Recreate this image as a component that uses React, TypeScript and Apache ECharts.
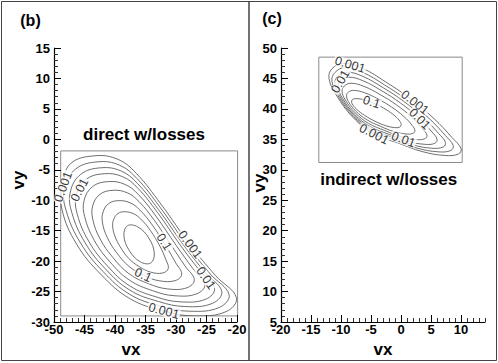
import React, { useEffect, useRef } from 'react';
import * as echarts from 'echarts';

const FONT = '"Liberation Sans", Arial, Helvetica, sans-serif';

// ---- axis ranges (tick step 5) ----
const STEP = 5;
const bX = [-50, -20];
const bY = [-30, 15];
const cX = [-20, 14];
const cXLab = [-20, 10];
const cY = [5, 50];

// ---- frames of the contour data regions [xmin, xmax, ymin, ymax] ----
const bBox = [-48.9, -19.9, -29.0, -1.9];
const cBox = [-13.7, 10.2, 31.2, 48.5];

// ---- panel (b) "direct w/losses" contours, outer (0.001) to inner ----
const bC1 = [[-43.3,-2.7],[-39.5,-3.3],[-36.5,-5.6],[-32.5,-10.6],[-27.7,-17.3],[-23.5,-22.4],[-20.1,-26.0],[-21.8,-28.3],[-27,-29.0],[-32,-28.2],[-37.5,-26.2],[-42.3,-22.2],[-46.3,-17.2],[-48.7,-11.5],[-48.6,-7.5],[-47.3,-4.0]];
const bC2 = [[-42.78,-3.69],[-39.24,-4.25],[-36.42,-6.41],[-32.68,-11.07],[-28.23,-17.33],[-24.38,-22.12],[-21.3,-25.49],[-22.92,-27.62],[-27.77,-28.23],[-32.43,-27.42],[-37.53,-25.49],[-41.96,-21.71],[-45.63,-17.06],[-47.99,-11.78],[-48.31,-8.08],[-46.46,-4.88]];
const bC3 = [[-42.27,-4.67],[-38.98,-5.21],[-36.35,-7.21],[-32.87,-11.54],[-28.76,-17.36],[-25.25,-21.84],[-22.5,-24.97],[-24.03,-26.94],[-28.54,-27.46],[-32.85,-26.64],[-37.56,-24.77],[-41.62,-21.23],[-44.95,-16.91],[-47.07,-12.06],[-47.33,-8.67],[-45.62,-5.75]];
const bC4 = [[-41.76,-5.65],[-38.72,-6.15],[-36.27,-8.01],[-33.05,-12.0],[-29.28,-17.39],[-26.12,-21.56],[-23.69,-24.46],[-25.13,-26.26],[-29.3,-26.69],[-33.28,-25.87],[-37.58,-24.07],[-41.29,-20.74],[-44.29,-16.77],[-46.17,-12.34],[-46.35,-9.24],[-44.79,-6.62]];
const bC5 = [[-41.08,-6.94],[-38.37,-7.4],[-36.17,-9.06],[-33.29,-12.61],[-29.97,-17.42],[-27.26,-21.19],[-25.26,-23.79],[-26.6,-25.37],[-30.31,-25.68],[-33.84,-24.85],[-37.62,-23.13],[-40.84,-20.11],[-43.4,-16.59],[-44.97,-12.7],[-45.06,-10.01],[-43.69,-7.77]];
const bC6 = [[-40.34,-8.37],[-37.99,-8.78],[-36.06,-10.23],[-33.56,-13.29],[-30.74,-17.47],[-28.53,-20.79],[-27.0,-23.04],[-28.21,-24.38],[-31.42,-24.56],[-34.46,-23.72],[-37.66,-22.1],[-40.35,-19.4],[-42.43,-16.38],[-43.65,-13.11],[-43.63,-10.85],[-42.48,-9.04]];
const bC7 = [[-39.45,-10.07],[-37.54,-10.42],[-35.92,-11.61],[-33.87,-14.1],[-31.65,-17.52],[-30.04,-20.3],[-29.06,-22.15],[-30.13,-23.2],[-32.75,-23.23],[-35.19,-22.38],[-37.71,-20.86],[-39.77,-18.56],[-41.26,-16.13],[-42.07,-13.59],[-41.93,-11.86],[-41.03,-10.55]];
const bC8 = [[-38.5,-11.89],[-37.05,-12.18],[-35.78,-13.09],[-34.21,-14.96],[-32.63,-17.57],[-31.65,-19.78],[-31.27,-21.21],[-32.18,-21.95],[-34.16,-21.81],[-35.98,-20.94],[-37.76,-19.55],[-39.14,-17.66],[-40.02,-15.87],[-40.39,-14.11],[-40.12,-12.93],[-39.48,-12.16]];
const bC9 = [[-34.14,-20.3],[-33.56,-18.7],[-34.44,-16.24],[-36.26,-14.38],[-37.96,-14.2],[-38.54,-15.8],[-37.66,-18.26],[-35.84,-20.12]];
const bContours = [bC1, bC2, bC3, bC4, bC5, bC6, bC7, bC8, bC9];

// contour labels: [text, vx, vy, rotation]
const bLabels: [string, number, number, number][] = [
  ['0.001', -48.5, -7.8, 70],
  ['0.01', -45.8, -8.3, 62],
  ['0.001', -27.7, -17.3, -53],
  ['0.1', -31.95, -16.85, -58],
  ['0.01', -25.1, -22.8, -55],
  ['0.1', -35.4, -22.3, -25],
  ['0.001', -32.0, -28.2, -15],
];

// ---- panel (c) "indirect w/losses" contours ----
const cC1 = [[-9.6,47.5],[-6.5,46.7],[-2.5,44.4],[1.5,41.7],[5.5,38.4],[8.5,35.3],[10.0,33.5],[9.6,32.6],[7.3,32.35],[3.5,33.0],[-0.5,34.4],[-4.5,35.85],[-8.0,38.6],[-10.8,42.3],[-12.0,45.0],[-11.5,46.6]];
const cC2 = [[-9.31,46.79],[-6.43,46.02],[-2.73,43.93],[0.98,41.46],[4.65,38.46],[7.38,35.64],[8.7,34.0],[8.31,33.17],[6.21,32.95],[2.71,33.55],[-1.0,34.86],[-4.7,36.25],[-7.93,38.78],[-10.46,42.11],[-11.51,44.53],[-11.03,45.95]];
const cC3 = [[-9.02,46.03],[-6.36,45.34],[-2.95,43.46],[0.47,41.23],[3.81,38.51],[6.25,35.98],[7.41,34.49],[7.03,33.74],[5.12,33.54],[1.92,34.11],[-1.5,35.33],[-4.91,36.65],[-7.85,38.95],[-10.11,41.93],[-11.01,44.06],[-10.57,45.31]];
const cC4 = [[-8.7,45.21],[-6.29,44.6],[-3.19,42.96],[-0.09,40.97],[2.9,38.58],[5.04,36.34],[6.01,35.03],[5.64,34.35],[3.95,34.18],[1.08,34.7],[-2.03,35.83],[-5.12,37.08],[-7.77,39.14],[-9.74,41.73],[-10.48,43.56],[-10.06,44.61]];
const cC5 = [[-8.32,44.21],[-6.2,43.71],[-3.49,42.35],[-0.76,40.66],[1.79,38.65],[3.58,36.78],[4.32,35.68],[3.96,35.1],[2.52,34.96],[0.05,35.42],[-2.68,36.44],[-5.39,37.61],[-7.67,39.38],[-9.3,41.49],[-9.83,42.94],[-9.45,43.76]];
const cC6 = [[-7.88,43.04],[-6.09,42.66],[-3.83,41.63],[-1.56,40.3],[0.49,38.74],[1.85,37.3],[2.32,36.44],[1.99,35.97],[0.85,35.88],[-1.17,36.27],[-3.45,37.15],[-5.7,38.22],[-7.55,39.65],[-8.77,41.2],[-9.07,42.22],[-8.74,42.77]];
const cC7 = [[-7.36,41.69],[-5.97,41.45],[-4.23,40.8],[-2.47,39.88],[-1.01,38.84],[-0.14,37.9],[0.03,37.32],[-0.29,36.98],[-1.08,36.93],[-2.56,37.25],[-4.33,37.97],[-6.06,38.93],[-7.42,39.96],[-8.16,40.87],[-8.2,41.39],[-7.91,41.62]];
const cContours = [cC1, cC2, cC3, cC4, cC5, cC6, cC7];

const cLabels: [string, number, number, number][] = [
  ['0.001', -8.5, 47.25, -17],
  ['0.01', -10.1, 44.5, 60],
  ['0.1', -4.9, 41.1, -18],
  ['0.001', 2.3, 41.05, -38],
  ['0.01', 3.1, 38.35, -45],
  ['0.001', -4.5, 35.85, -27],
  ['0.01', 0.4, 34.95, -20],
];

// ---- pixel layout of the two plots ----
const bPlot = { left: 54, top: 48, width: 183, height: 274 };
const cPlot = { left: 281, top: 48, width: 204, height: 274 };

function boxGrid(plot: any, xr: number[], yr: number[], box: number[]) {
  const sx = plot.width / (xr[1] - xr[0]);
  const sy = plot.height / (yr[1] - yr[0]);
  return {
    left: plot.left + (box[0] - xr[0]) * sx,
    top: plot.top + (yr[1] - box[3]) * sy,
    width: (box[1] - box[0]) * sx,
    height: (box[3] - box[2]) * sy,
    show: true,
    borderColor: '#8a8a8a',
    borderWidth: 1,
    backgroundColor: 'transparent',
    outerBoundsMode: 'none',
  };
}

const LAB = { color: '#000', fontSize: 13, fontWeight: 'bold', fontFamily: FONT };
const TICK = { show: true, inside: true, length: 7, lineStyle: { color: '#000', width: 1 } };
const MINOR = { show: true, splitNumber: 5, length: 4, lineStyle: { color: '#333', width: 1 } };
const LINE = { show: true, onZero: false, lineStyle: { color: '#000', width: 1.2 } };

function contourSeries(contours: number[][][], gi: number) {
  return contours.map((pts) => ({
    type: 'custom',
    xAxisIndex: gi,
    yAxisIndex: gi,
    clip: true,
    silent: true,
    z: 2,
    data: [pts[0]],
    renderItem: (_p: any, api: any) => ({
      type: 'polygon',
      shape: { points: pts.map((p) => api.coord(p)), smooth: 0.4 },
      style: { fill: 'none', stroke: '#4a4a4a', lineWidth: 0.8 },
    }),
  }));
}

function labelSeries(labels: [string, number, number, number][], gi: number) {
  return {
    type: 'scatter',
    xAxisIndex: gi,
    yAxisIndex: gi,
    symbolSize: 0.1,
    itemStyle: { color: 'transparent' },
    clip: false,
    silent: true,
    z: 6,
    data: labels.map(([t, x, y, r]) => ({ name: t, value: [x, y], label: { rotate: r } })),
    label: {
      show: true,
      position: 'inside',
      formatter: '{b}',
      color: '#000',
      fontSize: 12.5,
      fontFamily: FONT,
      backgroundColor: '#fff',
      padding: [0, 1],
      lineHeight: 10,
    },
  };
}

function txt(text: string, x: number, y: number, size: number, rot = 0) {
  return {
    type: 'text',
    x,
    y,
    rotation: rot,
    silent: true,
    style: {
      text,
      fill: '#000',
      font: `bold ${size}px ${FONT}`,
      align: 'center',
      verticalAlign: 'middle',
    },
  };
}

export default function App() {
  const ref = useRef<HTMLDivElement>(null);
  useEffect(() => {
    document.body.style.margin = '0';
    const chart = echarts.init(ref.current!, null, { renderer: 'svg' });
    const option: any = {
      animation: false,
      backgroundColor: '#fff',
      grid: [
        { ...bPlot, show: false, outerBoundsMode: 'none' },
        boxGrid(bPlot, bX, bY, bBox),
        { ...cPlot, show: false, outerBoundsMode: 'none' },
        boxGrid(cPlot, cX, cY, cBox),
        { left: cPlot.left, top: cPlot.top, width: cPlot.width * (cXLab[1] - cXLab[0]) / (cX[1] - cX[0]), height: cPlot.height, show: false, outerBoundsMode: 'none' },
      ],
      xAxis: [
        { gridIndex: 0, type: 'value', min: bX[0], max: bX[1], interval: STEP, axisLine: LINE, axisTick: TICK, minorTick: MINOR, axisLabel: { ...LAB, margin: 1 }, splitLine: { show: false } },
        { gridIndex: 1, type: 'value', min: bBox[0], max: bBox[1], show: false },
        { gridIndex: 2, type: 'value', min: cX[0], max: cX[1], interval: 1, axisLine: LINE, axisTick: { ...TICK, length: 4, lineStyle: { color: '#333', width: 1 } }, axisLabel: { show: false }, splitLine: { show: false } },
        { gridIndex: 3, type: 'value', min: cBox[0], max: cBox[1], show: false },
        { gridIndex: 4, type: 'value', min: cXLab[0], max: cXLab[1], interval: STEP, axisLine: { show: false, onZero: false }, axisTick: TICK, axisLabel: { ...LAB, margin: 1 }, splitLine: { show: false } },
      ],
      yAxis: [
        { gridIndex: 0, type: 'value', min: bY[0], max: bY[1], interval: STEP, axisLine: LINE, axisTick: TICK, minorTick: MINOR, axisLabel: { ...LAB, margin: 4 }, splitLine: { show: false } },
        { gridIndex: 1, type: 'value', min: bBox[2], max: bBox[3], show: false },
        { gridIndex: 2, type: 'value', min: cY[0], max: cY[1], interval: STEP, axisLine: LINE, axisTick: TICK, minorTick: MINOR, axisLabel: { ...LAB, margin: 4 }, splitLine: { show: false } },
        { gridIndex: 3, type: 'value', min: cBox[2], max: cBox[3], show: false },
        { gridIndex: 4, type: 'value', min: cY[0], max: cY[1], show: false },
      ],
      series: [
        ...contourSeries(bContours, 1),
        labelSeries(bLabels, 1),
        ...contourSeries(cContours, 3),
        labelSeries(cLabels, 3),
      ],
      graphic: [
        { type: 'rect', silent: true, shape: { x: 1.5, y: 1.5, width: 495, height: 359 }, style: { fill: 'none', stroke: '#444', lineWidth: 1 } },
        { type: 'line', silent: true, shape: { x1: 249, y1: 1.5, x2: 249, y2: 360.5 }, style: { stroke: '#444', lineWidth: 1.5 } },
        txt('(b)', 30.5, 20.3, 16),
        txt('(c)', 272, 18.5, 16),
        txt('direct w/losses', 144, 134, 17),
        txt('indirect w/losses', 388.7, 179, 17),
        txt('vx', 131, 349, 17),
        txt('vx', 383, 349, 17),
        txt('vy', 18.5, 180, 17, Math.PI / 2),
        txt('vy', 259, 183, 17, Math.PI / 2),
      ],
    };
    chart.setOption(option);
    return () => chart.dispose();
  }, []);
  return <div ref={ref} style={{ width: 498, height: 363 }} />;
}
